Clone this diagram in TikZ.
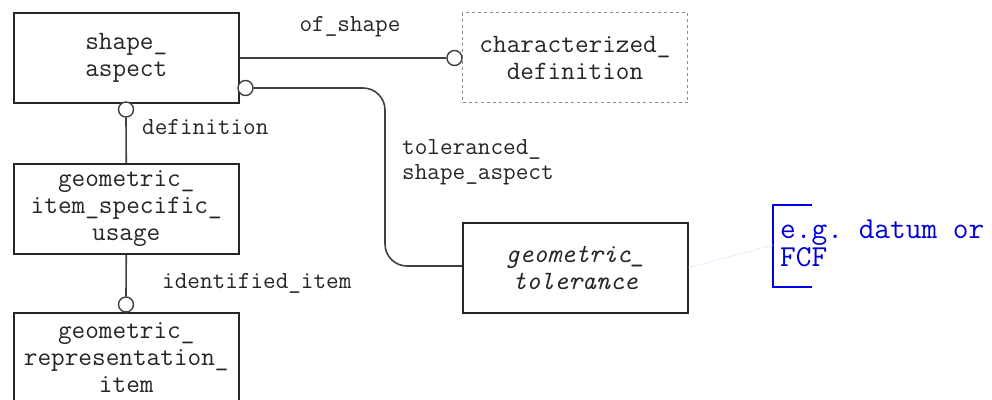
\documentclass[tikz,border=0pt]{standalone}
\begin{document}
\begin{tikzpicture}[x=1pt,y=-1pt,
  ent/.style={draw=black!85, line width=1.5pt, minimum width=225pt, minimum height=90pt,
    align=center, inner sep=0pt, anchor=north west, font=\ttfamily\fontsize{26.5}{27}\selectfont, text=black!85},
  ref/.style={ent, draw=black!45, dashed, line width=1pt},
  conn/.style={draw=black!75, line width=1.6pt},
  ring/.style={circle, draw=black!75, line width=1.4pt, fill=white, minimum size=15pt, inner sep=0pt},
  lbl/.style={font=\ttfamily\fontsize{24.5}{25}\selectfont, text=black!85, align=left, inner sep=0pt},
  note/.style={font=\ttfamily\frenchspacing\fontsize{30.5}{28}\selectfont, text=blue!85!black, align=left, inner sep=0pt, anchor=north west}]
\useasboundingbox (0,0) rectangle (992,399);
\clip (0,0) rectangle (992,399);
\fill[white] (0,0) rectangle (992,399);

\node[ent] (sa) at (13,12) {shape\_\\aspect};
\node[ref] (cd) at (462,12) {characterized\_\\definition};
\node[ent] (gisu) at (13,163) {geometric\_\\item\_specific\_\\usage};
\node[ent] (gri) at (13,312) {geometric\_\\representation\_\\item};
\node[ent] (gt) at (462,222) {\itshape geometric\_\\\itshape tolerance};

% of_shape
\node[ring] (r1) at (454.5,58) {};
\draw[conn] (sa.east |- r1) -- (r1.west);
\node[lbl] (l1) at (350,27) {of\_shape};

% toleranced_shape_aspect
\node[ring] (r2) at (245.5,88) {};
\coordinate (k1) at (385,88);
\coordinate (k2) at (385,266);
\draw[conn, rounded corners=22pt] (r2.east) -- (k1) -- (k2) -- (gt.west |- k2);
\node[lbl, anchor=west] (l2) at (402,162) {toleranced\_\\shape\_aspect};

% definition
\node[ring] (r3) at (126,109.5) {};
\draw[conn] (r3.south) -- (gisu.north);
\node[lbl, anchor=west] (l3) at (142,127) {definition};

% identified_item
\node[ring] (r4) at (126,304.5) {};
\draw[conn] (gisu.south) -- (r4.north);
\node[lbl, anchor=west] (l4) at (162,283) {identified\_item};

% note
\coordinate (b1) at (812,205);
\coordinate (b2) at (773,205);
\coordinate (b3) at (773,287);
\coordinate (b4) at (812,287);
\draw[blue!90!black, line width=1.6pt] (b1) -- (b2) -- (b3) -- (b4);
\node[note] (n1) at (780,220) {e.g. datum or\\FCF};
\draw[blue!25, dotted, line width=0.8pt] (gt.east) -- (773,245);
\end{tikzpicture}
\end{document}
